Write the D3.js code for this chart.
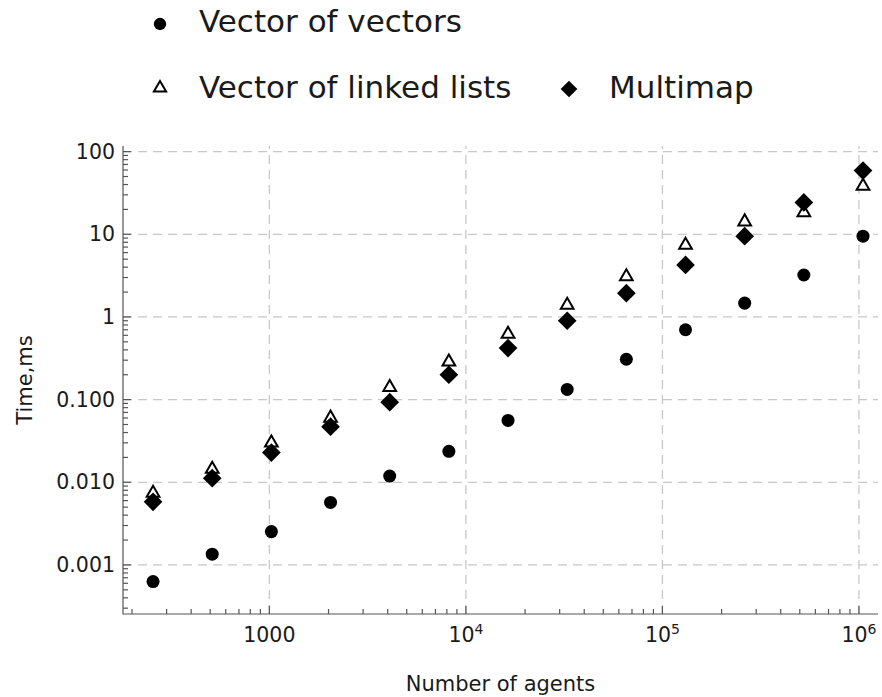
<!DOCTYPE html>
<html>
<head>
<meta charset="utf-8">
<script src="https://cdn.jsdelivr.net/npm/d3@7"></script>
<style>
body { margin: 0; background: #fff; }
text { font-family: "DejaVu Sans", sans-serif; fill: #1a1a1a; }
</style>
</head>
<body>
<svg width="882" height="697"></svg>
<script>
// data (time in ms)
const agents = [256, 512, 1024, 2048, 4096, 8192, 16384, 32768, 65536, 131072, 262144, 524288, 1048576];
const vecOfVectors = [0.00063, 0.00135, 0.00253, 0.0057, 0.0119, 0.0237, 0.056, 0.133, 0.308, 0.70, 1.47, 3.22, 9.5];
const vecOfLists = [0.0074, 0.0144, 0.030, 0.060, 0.141, 0.286, 0.62, 1.39, 3.08, 7.4, 14.2, 18.3, 38.3];
const multimap = [0.0058, 0.0112, 0.0229, 0.0471, 0.093, 0.20, 0.42, 0.90, 1.94, 4.26, 9.5, 24.3, 59];

const yTicks = [0.001, 0.01, 0.1, 1, 10, 100];
const yTickLabels = ["0.001", "0.010", "0.100", "1", "10", "100"];
const xTicks = [1000, 1e4, 1e5, 1e6];
const xTickLabels = [["1000", ""], ["10", "4"], ["10", "5"], ["10", "6"]];

const svg = d3.select("svg");

const x = d3.scaleLog().domain([180, 1.25e6]).range([123, 878]);
const y = d3.scaleLog().domain([2.55e-4, 117]).range([614, 146]);

const [x0, x1] = x.range();
const [y0, y1] = y.range();

// minor tick positions, 2..9 in each decade
const minors = (scale) => {
    const [lo, hi] = scale.domain();
    const out = [];
    for (let e = Math.floor(Math.log10(lo)); e <= Math.ceil(Math.log10(hi)); e++) {
        for (let m = 2; m <= 9; m++) {
            const v = m * Math.pow(10, e);
            if (v >= lo && v <= hi) out.push(v);
        }
    }
    return out;
};

// grid
const grid = svg.append("g")
    .attr("stroke", "#c8c8c8")
    .attr("stroke-width", 1.3)
    .attr("stroke-dasharray", "9,6");

grid.selectAll(".hgrid")
    .data(yTicks)
    .enter().append("line")
    .attr("x1", x0).attr("x2", x1)
    .attr("y1", d => y(d)).attr("y2", d => y(d));

grid.selectAll(".vgrid")
    .data(xTicks)
    .enter().append("line")
    .attr("y1", y0).attr("y2", y1)
    .attr("x1", d => x(d)).attr("x2", d => x(d));

// axes
const axes = svg.append("g")
    .attr("stroke", "#555")
    .attr("stroke-width", 1.2);

axes.append("path")
    .attr("fill", "none")
    .attr("d", `M${x0},${y1}V${y0}H${x1}`);

axes.selectAll(".ytick")
    .data(yTicks.map(v => [v, 8]).concat(minors(y).map(v => [v, 5])))
    .enter().append("line")
    .attr("x1", x0).attr("x2", d => x0 + d[1])
    .attr("y1", d => y(d[0])).attr("y2", d => y(d[0]));

axes.selectAll(".xtick")
    .data(xTicks.map(v => [v, 8]).concat(minors(x).map(v => [v, 5])))
    .enter().append("line")
    .attr("y1", y0).attr("y2", d => y0 - d[1])
    .attr("x1", d => x(d[0])).attr("x2", d => x(d[0]));

svg.selectAll(".ylabel")
    .data(yTicks)
    .enter().append("text")
    .attr("x", x0 - 8)
    .attr("y", d => y(d) + 7)
    .attr("text-anchor", "end")
    .attr("font-size", 20.5)
    .text((d, i) => yTickLabels[i]);

const xl = svg.selectAll(".xlabel")
    .data(xTicks)
    .enter().append("text")
    .attr("x", d => x(d))
    .attr("y", y0 + 28)
    .attr("text-anchor", "middle")
    .attr("font-size", 20.5);
xl.append("tspan").text((d, i) => xTickLabels[i][0]);
xl.append("tspan")
    .attr("dy", -8)
    .attr("font-size", 14)
    .text((d, i) => xTickLabels[i][1]);

svg.append("text")
    .attr("x", (x0 + x1) / 2)
    .attr("y", 691)
    .attr("text-anchor", "middle")
    .attr("font-size", 21)
    .text("Number of agents");

svg.append("text")
    .attr("transform", "translate(32," + ((y0 + y1) / 2) + ") rotate(-90)")
    .attr("text-anchor", "middle")
    .attr("font-size", 21)
    .text("Time,ms");

// marks
const circle = d3.symbol().type(d3.symbolCircle);
const tri = d3.symbol().type(d3.symbolTriangle);
const square = d3.symbol().type(d3.symbolSquare);

const plot = (vals, cls, draw) => {
    const sel = svg.selectAll("." + cls)
        .data(agents.map((a, i) => [a, vals[i]]))
        .enter().append("path")
        .attr("class", cls);
    draw(sel);
};

plot(vecOfVectors, "vv", s => s
    .attr("d", circle.size(133))
    .attr("fill", "#000")
    .attr("transform", d => "translate(" + x(d[0]) + "," + y(d[1]) + ")"));

plot(vecOfLists, "vl", s => s
    .attr("d", tri.size(70))
    .attr("fill", "#fff")
    .attr("stroke", "#000")
    .attr("stroke-width", 2)
    .attr("transform", d => "translate(" + x(d[0]) + "," + y(d[1]) + ")"));

plot(multimap, "mm", s => s
    .attr("d", square.size(175))
    .attr("fill", "#000")
    .attr("transform", d => "translate(" + x(d[0]) + "," + y(d[1]) + ") rotate(45)"));

// legend
const legend = svg.append("g").attr("font-size", 31);

legend.append("path")
    .attr("d", circle.size(120))
    .attr("transform", "translate(160,24)");
legend.append("text").attr("x", 199).attr("y", 32).text("Vector of vectors");

legend.append("path")
    .attr("d", tri.size(65))
    .attr("fill", "#fff").attr("stroke", "#000").attr("stroke-width", 2)
    .attr("transform", "translate(160,88)");
legend.append("text").attr("x", 199).attr("y", 98).text("Vector of linked lists");

legend.append("path")
    .attr("d", square.size(140))
    .attr("transform", "translate(569,89) rotate(45)");
legend.append("text").attr("x", 609).attr("y", 98).text("Multimap");
</script>
</body>
</html>
